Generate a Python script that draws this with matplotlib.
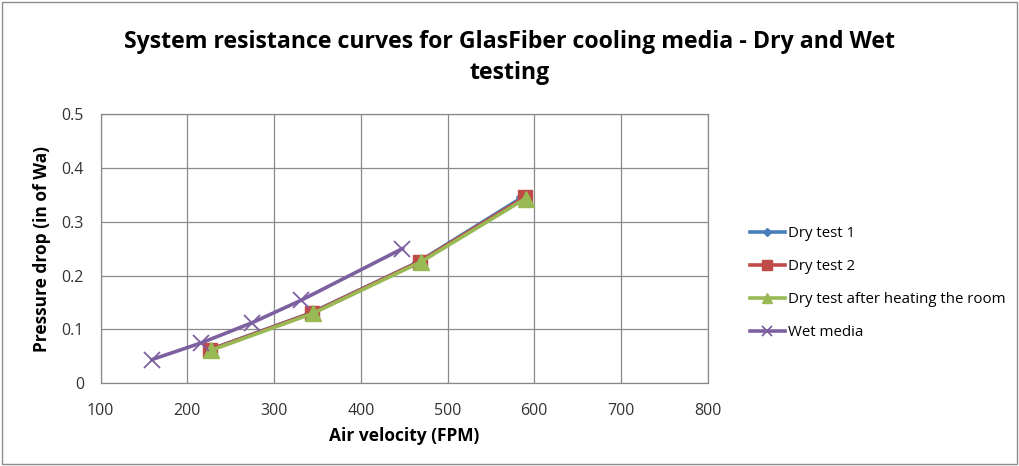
import numpy as np
import matplotlib.pyplot as plt
from matplotlib.patches import Rectangle

# Velocidade do ar (FPM) e queda de pressão (in of Wa)
vel_seco1 = [225, 343, 466, 586]
dp_seco1 = [0.062, 0.131, 0.225, 0.345]

vel_seco2 = [226, 344, 468, 589]
dp_seco2 = [0.062, 0.131, 0.226, 0.345]

vel_aquec = [227, 345, 469, 590]
dp_aquec = [0.061, 0.130, 0.225, 0.343]

vel_umido = [159, 216, 274, 331, 448]
dp_umido = [0.044, 0.075, 0.112, 0.154, 0.250]

fonte = 'Open Sans'

fig = plt.figure(figsize=(10.19, 4.66), dpi=100)
# moldura externa
fig.patches.append(Rectangle((0.002, 0.004), 0.996, 0.992, transform=fig.transFigure,
                             fill=False, edgecolor='#8c8c8c', linewidth=1.0))

ax = fig.add_axes([0.0988, 0.1775, 0.5957, 0.578])

ax.plot(vel_seco1, dp_seco1, '-', color='#4A7EBB', linewidth=2.6, marker='D',
        markersize=6, label='Dry test 1')
ax.plot(vel_seco2, dp_seco2, '-', color='#BE4B48', linewidth=2.6, marker='s',
        markersize=10, label='Dry test 2')
ax.plot(vel_aquec, dp_aquec, '-', color='#98B954', linewidth=2.6, marker='^',
        markersize=11, label='Dry test after heating the room')
ax.plot(vel_umido, dp_umido, '-', color='#7D60A0', linewidth=2.6, marker='x',
        markersize=11, markeredgewidth=1.3, label='Wet media')

ax.set_xlim(100, 800)
ax.set_ylim(0, 0.5)
ax.set_xticks(np.arange(100, 801, 100))
ax.set_yticks(np.arange(0, 0.51, 0.1))
ax.set_yticklabels(['0', '0.1', '0.2', '0.3', '0.4', '0.5'])
ax.grid(True, color='#8a8a8a', linewidth=0.9)
ax.set_axisbelow(True)
for s in ax.spines.values():
    s.set_color('#8a8a8a')
    s.set_linewidth(0.9)
ax.tick_params(length=0, labelsize=11.5, labelcolor='#333333')
ax.tick_params(axis='x', pad=14)
ax.tick_params(axis='y', pad=12)
for lbl in ax.get_xticklabels() + ax.get_yticklabels():
    lbl.set_family(fonte)

ax.set_xlabel('Air velocity (FPM)', fontsize=12.5, fontweight='bold', family=fonte, labelpad=6)
ax.set_ylabel('Pressure drop (in of Wa)', fontsize=12.5, fontweight='bold', family=fonte, labelpad=8)

fig.text(0.5, 0.91, 'System resistance curves for GlasFiber cooling media - Dry and Wet',
         ha='center', va='center', fontsize=16.7, fontweight='bold', family=fonte)
fig.text(0.5, 0.843, 'testing', ha='center', va='center', fontsize=16.7,
         fontweight='bold', family=fonte)

leg = ax.legend(loc='center left', bbox_to_anchor=(0.723, 0.393), bbox_transform=fig.transFigure,
                frameon=False, prop={'family': fonte, 'size': 10.8}, handlelength=2.3,
                handletextpad=0.2, labelspacing=1.2, markerscale=0.7)

plt.savefig('out.png', dpi=100)
plt.close(fig)
